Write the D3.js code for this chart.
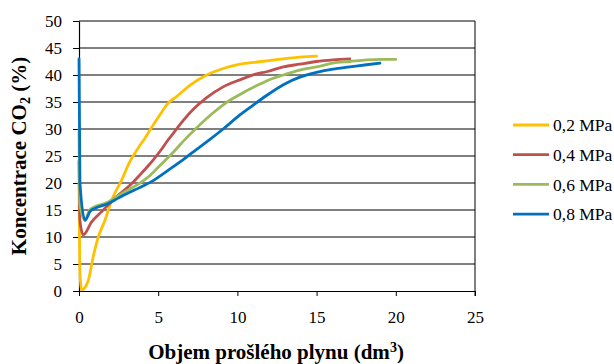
<!DOCTYPE html>
<html>
<head>
<meta charset="utf-8">
<script src="https://cdn.jsdelivr.net/npm/d3@7"></script>
<style>
  body { margin: 0; background: #fff; }
</style>
</head>
<body>
<div id="chart"></div>
<script>
const FONT = "\"Liberation Serif\", \"Times New Roman\", serif";

// Series labels and colours (pressure levels)
const seriesNames = ["0,2 MPa", "0,4 MPa", "0,6 MPa", "0,8 MPa"];
const seriesColors = ["#FFC000", "#C0504D", "#9BBB59", "#0070C0"];

// Gas volume (dm3) and CO2 concentration (%)
const x02 = [0, 0.05, 0.17, 0.59, 0.9, 1.22, 1.64, 2.06, 2.7, 3.2, 3.74, 4.16, 4.48, 5.1, 5.63, 6.16, 7.0, 8.06, 9.1, 10.16, 11.2, 12.9, 13.94, 15.0];
const y02 = [20, 4, 0.2, 2, 6.4, 10, 13.1, 16.8, 20.6, 23.9, 26.5, 28.3, 29.8, 32.6, 34.8, 36, 38.1, 40, 41.2, 42, 42.4, 43, 43.3, 43.5];

const x04 = [0, 0.06, 0.27, 0.8, 1.43, 2.27, 3.3, 3.85, 4.37, 4.69, 5.2, 5.53, 5.95, 6.37, 7.2, 8.06, 9.1, 10.16, 11.2, 11.84, 12.9, 13.94, 15.0, 16.04, 17.1];
const y04 = [24, 13, 10.4, 12.8, 14.7, 17.2, 19.8, 21.5, 23.2, 24.3, 26.2, 27.6, 29.2, 30.8, 33.6, 35.8, 37.8, 39.1, 40.2, 40.6, 41.5, 42, 42.5, 42.8, 43];

const x06 = [0, 0.06, 0.38, 0.69, 1.85, 2.9, 3.96, 4.48, 5.0, 5.95, 6.8, 7.63, 8.47, 9.3, 10.16, 11.2, 11.84, 12.9, 13.94, 15, 16.04, 17.1, 18.15, 19.2, 20.0];
const y06 = [30, 16, 13.1, 15.1, 16.5, 18.4, 20.2, 21.4, 22.9, 25.7, 28.4, 30.8, 33.0, 34.9, 36.4, 38.0, 38.9, 40, 40.9, 41.5, 42.2, 42.5, 42.8, 42.9, 42.9];

const x08 = [0, 0.06, 0.38, 0.69, 1.0, 1.85, 2.48, 3.5, 4.6, 5.6, 6.7, 7.0, 8.06, 9.1, 10.16, 10.8, 11.84, 12.9, 13.94, 15, 16.04, 17.1, 18.15, 19.0];
const y08 = [43, 20, 13.1, 14.7, 15.3, 16.2, 17.2, 18.7, 20.3, 22.3, 24.6, 25.3, 27.6, 30.0, 32.6, 34.0, 36.2, 38.2, 39.6, 40.5, 41.1, 41.5, 41.9, 42.2];

const xTicks = [0, 5, 10, 15, 20, 25];
const yTicks = [0, 5, 10, 15, 20, 25, 30, 35, 40, 45, 50];

const series = [[x02, y02], [x04, y04], [x06, y06], [x08, y08]].map(([xs, ys], i) => ({
  name: seriesNames[i],
  color: seriesColors[i],
  points: xs.map((x, j) => [x, ys[j]])
}));

const W = 614, H = 364;
const svg = d3.select("#chart").append("svg")
  .attr("width", W)
  .attr("height", H)
  .style("font-family", FONT);

const xScale = d3.scaleLinear().domain([0, 25]).range([79, 475]);
const yScale = d3.scaleLinear().domain([0, 50]).range([291, 21]);

// horizontal grid lines
svg.append("g").selectAll("line")
  .data(yTicks.filter(d => d > 0))
  .enter().append("line")
  .attr("x1", xScale(0)).attr("x2", xScale(25))
  .attr("y1", d => yScale(d)).attr("y2", d => yScale(d))
  .attr("stroke", "#000").attr("stroke-width", 1);

// right border
svg.append("line")
  .attr("x1", xScale(25)).attr("x2", xScale(25))
  .attr("y1", yScale(50)).attr("y2", yScale(0) + 5)
  .attr("stroke", "#000");

// x axis
const xAxis = svg.append("g")
  .attr("transform", `translate(0,${yScale(0)})`)
  .call(d3.axisBottom(xScale).tickValues(xTicks).tickSize(5).tickPadding(15).tickSizeOuter(0));

// y axis
const yAxis = svg.append("g")
  .attr("transform", `translate(${xScale(0)},0)`)
  .call(d3.axisLeft(yScale).tickValues(yTicks).tickSize(6).tickPadding(11).tickSizeOuter(0));

[xAxis, yAxis].forEach(a => {
  a.attr("font-family", null).attr("font-size", null);
  a.select(".domain").attr("stroke", "#000").attr("stroke-width", 1.2);
  a.selectAll(".tick line").attr("stroke", "#000");
  a.selectAll(".tick text")
    .attr("fill", "#000")
    .style("font-family", FONT)
    .style("font-size", "17px");
});

// data lines
const line = d3.line()
  .x(d => xScale(d[0]))
  .y(d => yScale(d[1]))
  .curve(d3.curveMonotoneX);

svg.append("g").selectAll("path")
  .data(series)
  .enter().append("path")
  .attr("d", d => line(d.points))
  .attr("fill", "none")
  .attr("stroke", d => d.color)
  .attr("stroke-width", 2.8)
  .attr("stroke-linejoin", "round")
  .attr("stroke-linecap", "round");

// axis titles
const xTitle = svg.append("text")
  .attr("x", 276).attr("y", 359)
  .attr("text-anchor", "middle")
  .style("font-family", FONT)
  .style("font-size", "21px").style("font-weight", "bold");
xTitle.append("tspan").text("Objem prošlého plynu (dm");
xTitle.append("tspan").attr("dy", -7).style("font-size", "14px").text("3");
xTitle.append("tspan").attr("dy", 7).text(")");

const yTitle = svg.append("text")
  .attr("transform", "translate(26,156) rotate(-90)")
  .attr("text-anchor", "middle")
  .style("font-family", FONT)
  .style("font-size", "21px").style("font-weight", "bold");
yTitle.append("tspan").text("Koncentrace CO");
yTitle.append("tspan").attr("dy", 4).style("font-size", "14px").text("2");
yTitle.append("tspan").attr("dy", -4).text(" (%)");

// legend
const legend = svg.append("g").selectAll("g")
  .data(series)
  .enter().append("g")
  .attr("transform", (d, i) => `translate(513,${125 + i * 29.7})`);

legend.append("line")
  .attr("x1", 0).attr("x2", 36)
  .attr("stroke", d => d.color)
  .attr("stroke-width", 2.8);

legend.append("text")
  .attr("x", 40).attr("dy", "0.35em")
  .style("font-family", FONT)
  .style("font-size", "17.5px")
  .text(d => d.name);
</script>
</body>
</html>
